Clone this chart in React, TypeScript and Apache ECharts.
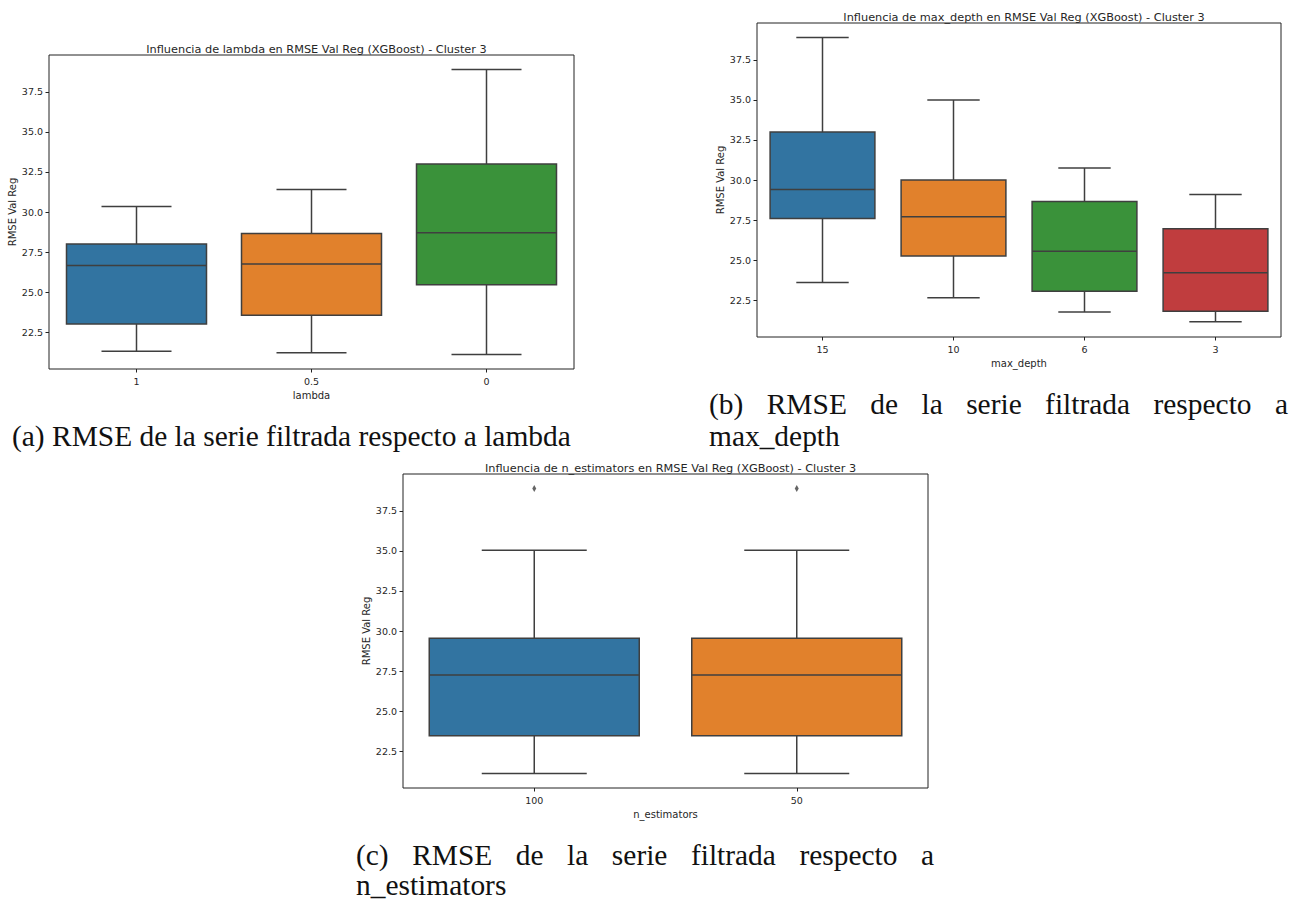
import React, { useEffect, useRef } from "react";
import * as echarts from "echarts";

// ---------- data ----------
const yTicks = [22.5, 25.0, 27.5, 30.0, 32.5, 35.0, 37.5];

const lambdaCats = ["1", "0.5", "0"];
// [low whisker, Q1, median, Q3, high whisker]
const lambdaStats = [
  [21.3, 23.0, 26.65, 28.0, 30.35],
  [21.2, 23.55, 26.75, 28.65, 31.4],
  [21.1, 25.45, 28.7, 33.0, 38.9],
];

const depthCats = ["15", "10", "6", "3"];
const depthStats = [
  [23.6, 27.6, 29.4, 33.0, 38.9],
  [22.65, 25.25, 27.7, 30.0, 35.0],
  [21.75, 23.05, 25.55, 28.65, 30.75],
  [21.15, 21.8, 24.2, 26.95, 29.1],
];

const estCats = ["100", "50"];
const estStats = [
  [21.1, 23.45, 27.25, 29.55, 35.05],
  [21.1, 23.45, 27.25, 29.55, 35.05],
];
const estOutliers = [
  [0, 38.9],
  [1, 38.9],
];

const titles = [
  "Influencia de lambda en RMSE Val Reg (XGBoost) - Cluster 3",
  "Influencia de max_depth en RMSE Val Reg (XGBoost) - Cluster 3",
  "Influencia de n_estimators en RMSE Val Reg (XGBoost) - Cluster 3",
];
const xNames = ["lambda", "max_depth", "n_estimators"];
const yName = "RMSE Val Reg";

const captionA = "(a) RMSE de la serie filtrada respecto a lambda";
const captionB1 = "(b) RMSE de la serie filtrada respecto a";
const captionB2 = "max_depth";
const captionC1 = "(c) RMSE de la serie filtrada respecto a";
const captionC2 = "n_estimators";

// ---------- style ----------
const palette = ["#3274a1", "#e1812c", "#3a923a", "#c03d3e"];
const lineGray = "#3f3f3f";
const textColor = "#262626";
const sansFont = "DejaVu Sans";
const serifFont = "Liberation Serif";

const grids = [
  { left: 49, top: 55, width: 525, height: 314 },
  { left: 757, top: 23, width: 524, height: 314 },
  { left: 403, top: 474, width: 525, height: 314 },
];
const yMin = 20.19;
const yMax = 39.81;

function boxRender(params: any, api: any) {
  const idx = api.value(0);
  const yLow = api.coord([idx, api.value(1)])[1];
  const yQ1 = api.coord([idx, api.value(2)])[1];
  const yMed = api.coord([idx, api.value(3)])[1];
  const yQ3 = api.coord([idx, api.value(4)])[1];
  const yHigh = api.coord([idx, api.value(5)])[1];
  const cx = api.coord([idx, api.value(3)])[0];
  const band = api.size([1, 0])[0];
  const bw = band * 0.8;
  const cw = bw / 2;
  const ls = { stroke: lineGray, lineWidth: 1.5 };
  return {
    type: "group",
    children: [
      { type: "line", shape: { x1: cx, y1: yHigh, x2: cx, y2: yQ3 }, style: ls },
      { type: "line", shape: { x1: cx, y1: yQ1, x2: cx, y2: yLow }, style: ls },
      { type: "line", shape: { x1: cx - cw / 2, y1: yHigh, x2: cx + cw / 2, y2: yHigh }, style: ls },
      { type: "line", shape: { x1: cx - cw / 2, y1: yLow, x2: cx + cw / 2, y2: yLow }, style: ls },
      {
        type: "rect",
        shape: { x: cx - bw / 2, y: yQ3, width: bw, height: yQ1 - yQ3 },
        style: { fill: palette[idx % palette.length], stroke: lineGray, lineWidth: 1.5 },
      },
      { type: "line", shape: { x1: cx - bw / 2, y1: yMed, x2: cx + bw / 2, y2: yMed }, style: ls },
    ],
  };
}

function measure(text: string, size: number) {
  const c = document.createElement("canvas").getContext("2d")!;
  c.font = `${size}px "${serifFont}"`;
  return c.measureText(text).width;
}

function justified(text: string, left: number, right: number, y: number, size: number) {
  const words = text.split(" ");
  const widths = words.map((w) => measure(w, size));
  const sum = widths.reduce((a, b) => a + b, 0);
  const gap = (right - left - sum) / (words.length - 1);
  let x = left;
  return words.map((w, i) => {
    const el = {
      type: "text",
      x,
      y,
      style: {
        text: w,
        font: `${size}px "${serifFont}"`,
        fill: "#111",
        textAlign: "left",
        textVerticalAlign: "middle",
      },
    };
    x += widths[i] + gap;
    return el;
  });
}

function plain(text: string, left: number, y: number, size: number) {
  return {
    type: "text",
    x: left,
    y,
    style: {
      text,
      font: `${size}px "${serifFont}"`,
      fill: "#111",
      textAlign: "left",
      textVerticalAlign: "middle",
    },
  };
}

export default function App() {
  const ref = useRef<HTMLDivElement>(null);
  useEffect(() => {
    if (!ref.current) return;
    const chart = echarts.init(ref.current, null, { renderer: "svg" });

    // fit caption font so that caption (a) spans its width in the reference
    const capSize = (100 * 559) / measure(captionA, 100);

    const catsList = [lambdaCats, depthCats, estCats];
    const statsList = [lambdaStats, depthStats, estStats];

    const option: any = {
      animation: false,
      backgroundColor: "#fff",
      title: titles.map((t, i) => ({
        text: t,
        left: grids[i].left + grids[i].width / 2,
        top: grids[i].top - 16,
        textAlign: "center",
        textStyle: { fontSize: 11.3, fontWeight: "normal", color: textColor, fontFamily: sansFont },
      })),
      grid: grids.map((g) => ({
        ...g,
        show: true,
        borderColor: "#222",
        borderWidth: 1,
        backgroundColor: "transparent",
        containLabel: false,
      })),
      xAxis: catsList.map((cats, i) => ({
        type: "category",
        gridIndex: i,
        data: cats,
        boundaryGap: true,
        name: xNames[i],
        nameLocation: "middle",
        nameGap: 21,
        nameTextStyle: { fontSize: 10, color: textColor, fontFamily: sansFont },
        axisLine: { show: false },
        axisTick: { show: true, alignWithLabel: true, length: 3.5, lineStyle: { color: "#222" } },
        axisLabel: { fontSize: 9.5, color: textColor, fontFamily: sansFont, margin: 7 },
        splitLine: { show: false },
      })),
      yAxis: catsList.map((_, i) => ({
        type: "value",
        gridIndex: i,
        min: yMin,
        max: yMax,
        name: yName,
        nameLocation: "middle",
        nameGap: 32,
        nameTextStyle: { fontSize: 10, color: textColor, fontFamily: sansFont },
        axisLine: { show: false },
        axisTick: { show: true, length: 3.5, lineStyle: { color: "#222" }, customValues: yTicks },
        axisLabel: {
          fontSize: 9.5,
          color: textColor,
          fontFamily: sansFont,
          margin: 6,
          customValues: yTicks,
          formatter: (v: number) => v.toFixed(1),
        },
        splitLine: { show: false },
      })),
      series: [
        ...statsList.map((stats, i) => ({
          type: "custom",
          xAxisIndex: i,
          yAxisIndex: i,
          clip: false,
          renderItem: boxRender,
          encode: { x: 0, y: [1, 2, 3, 4, 5] },
          data: stats.map((s, k) => [k, ...s]),
        })),
        {
          type: "scatter",
          xAxisIndex: 2,
          yAxisIndex: 2,
          symbol: "diamond",
          symbolSize: [4, 7],
          itemStyle: { color: lineGray },
          data: estOutliers,
        },
      ],
      graphic: [
        plain(captionA, 12, 436, capSize),
        ...justified(captionB1, 709, 1288, 404, capSize),
        plain(captionB2, 709, 436, capSize),
        ...justified(captionC1, 356, 934, 855, capSize),
        plain(captionC2, 356, 885, capSize),
      ],
    };
    chart.setOption(option);
    return () => chart.dispose();
  }, []);
  return (
    <div
      ref={ref}
      style={{ position: "absolute", left: 0, top: 0, width: 1301, height: 902 }}
    />
  );
}
